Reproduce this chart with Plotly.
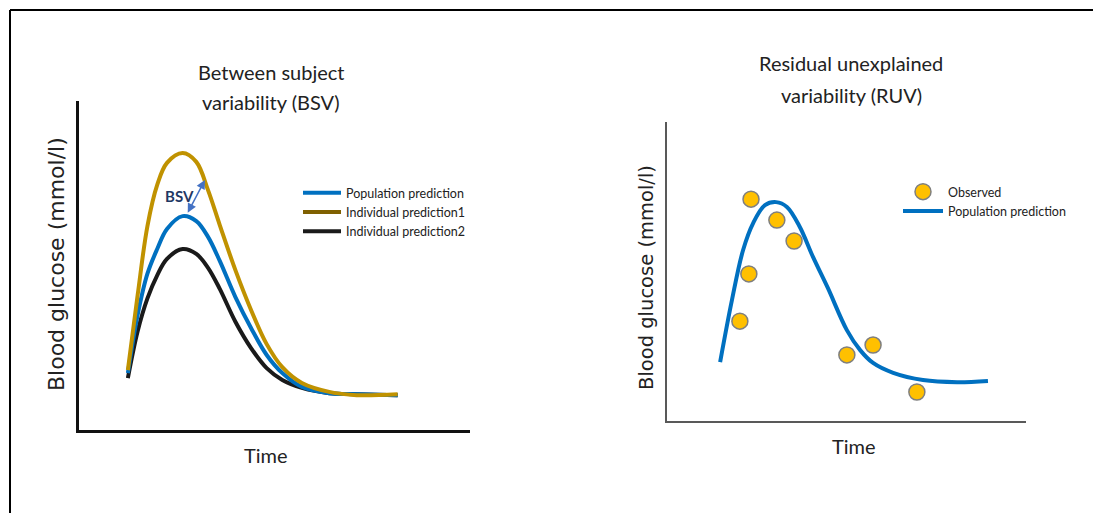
import plotly.graph_objects as go

# ---------------- data ----------------
# Left panel: between-subject variability (arbitrary units, 0-100)
bsv_time = [12.5, 15, 17.5, 20, 22.5, 26.5, 30, 33, 36, 40, 44, 48, 52, 57, 64, 71, 81.5]
pop_pred = [17.3, 35.0, 47.5, 55.0, 61.1, 65.0, 63.5, 58.7, 51.4, 40.4, 31.0, 22.8, 17.3, 13.1, 11.2, 10.9, 10.6]
ind_pred1 = [18.2, 41.0, 62.0, 74.5, 81.2, 84.2, 81.5, 72.9, 62.3, 48.6, 36.5, 26.1, 19.1, 14.3, 11.6, 10.6, 10.9]
ind_pred2 = [15.8, 30.0, 40.0, 47.0, 52.0, 55.0, 53.5, 49.3, 42.9, 32.9, 24.9, 18.8, 15.2, 12.8, 11.2, 10.9, 10.6]

# Right panel: residual unexplained variability
ruv_time = [14.8, 18.1, 21.2, 24.0, 27.3, 30.4, 33.4, 37.0, 40.7, 44.8, 50.1, 53.8, 57.4, 63.0, 71.3, 80.8, 89.4]
ruv_pred = [19.7, 40.5, 57.2, 66.2, 72.2, 73.2, 71.6, 64.9, 54.8, 44.5, 30.4, 23.7, 19.4, 16.1, 13.7, 13.0, 13.4]
obs_time = [20.3, 22.8, 23.4, 30.6, 35.4, 50.1, 57.4, 69.6]
obs_val = [33.4, 49.2, 74.2, 67.2, 60.2, 22.1, 25.4, 9.7]

titles_left = ["Between subject", "variability (BSV)"]
titles_right = ["Residual unexplained", "variability (RUV)"]
y_label = "Blood glucose (mmol/l)"
x_label = "Time"

# ---------------- style ----------------
FONT = "Lato"
YFONT = "DejaVu Sans"
BLUE = "#0070C0"
GOLD = "#C09200"
GOLD_LEG = "#7F6000"
BLACK = "#1A1A1A"
OFF = 8  # page body margin
W, H = 1101 - OFF, 513 - OFF


def px_x(p):
    return (p - OFF) / W


def px_y(p):
    return (H - (p - OFF)) / H


fig = go.Figure()

# left panel curves
fig.add_trace(go.Scatter(x=bsv_time, y=ind_pred2, mode="lines", line=dict(color=BLACK, width=4, shape="spline"),
                         xaxis="x", yaxis="y", showlegend=False))
fig.add_trace(go.Scatter(x=bsv_time, y=pop_pred, mode="lines", line=dict(color=BLUE, width=4, shape="spline"),
                         xaxis="x", yaxis="y", showlegend=False))
fig.add_trace(go.Scatter(x=bsv_time, y=ind_pred1, mode="lines", line=dict(color=GOLD, width=4, shape="spline"),
                         xaxis="x", yaxis="y", showlegend=False))

# left legend entries
fig.add_trace(go.Scatter(x=[None], y=[None], mode="lines", line=dict(color=BLUE, width=4),
                         name="Population prediction", legend="legend", xaxis="x", yaxis="y"))
fig.add_trace(go.Scatter(x=[None], y=[None], mode="lines", line=dict(color=GOLD_LEG, width=4),
                         name="Individual prediction1", legend="legend", xaxis="x", yaxis="y"))
fig.add_trace(go.Scatter(x=[None], y=[None], mode="lines", line=dict(color=BLACK, width=4),
                         name="Individual prediction2", legend="legend", xaxis="x", yaxis="y"))

# right panel
fig.add_trace(go.Scatter(x=ruv_time, y=ruv_pred, mode="lines", line=dict(color=BLUE, width=4, shape="spline"),
                         xaxis="x2", yaxis="y2", name="Population prediction", legend="legend2", legendrank=2))
fig.add_trace(go.Scatter(x=obs_time, y=obs_val, mode="markers",
                         marker=dict(color="#FFC000", size=16, line=dict(color="#7F7F7F", width=1.5)),
                         xaxis="x2", yaxis="y2", name="Observed", legend="legend2", legendrank=1))

axis_common = dict(showgrid=False, zeroline=False, showticklabels=False, ticks="", range=[0, 100], fixedrange=True)

fig.update_layout(
    width=W, height=H,
    margin=dict(l=0, r=0, t=0, b=0),
    paper_bgcolor="white", plot_bgcolor="white",
    font=dict(family=FONT, color="#222222"),
    xaxis=dict(domain=[px_x(79), px_x(470)], anchor="y", showline=True, linecolor="#111111", linewidth=2.5, **axis_common),
    yaxis=dict(domain=[px_y(430), px_y(101)], anchor="x", showline=True, linecolor="#111111", linewidth=2.5, **axis_common),
    xaxis2=dict(domain=[px_x(667), px_x(1026)], anchor="y2", showline=True, linecolor="#595959", linewidth=1.5, **axis_common),
    yaxis2=dict(domain=[px_y(421), px_y(122)], anchor="x2", showline=True, linecolor="#595959", linewidth=1.5, **axis_common),
    legend=dict(x=px_x(298), y=px_y(178), xanchor="left", yanchor="top", bgcolor="rgba(0,0,0,0)",
                font=dict(family=FONT, size=12.5, color="#222222"), tracegroupgap=0, itemwidth=38),
    legend2=dict(x=px_x(898), y=px_y(177), xanchor="left", yanchor="top", bgcolor="rgba(0,0,0,0)",
                 font=dict(family=FONT, size=12.5, color="#222222"), traceorder="normal", itemwidth=40),
)

annotations = []
for i, t in enumerate(titles_left):
    annotations.append(dict(text=t, x=px_x(271), y=px_y(72 + 30 * i), xref="paper", yref="paper",
                            showarrow=False, xanchor="center", yanchor="middle",
                            font=dict(family=FONT, size=20, color="#222222")))
for i, t in enumerate(titles_right):
    annotations.append(dict(text=t, x=px_x(851), y=px_y(63 + 32 * i), xref="paper", yref="paper",
                            showarrow=False, xanchor="center", yanchor="middle",
                            font=dict(family=FONT, size=20, color="#222222")))
annotations.append(dict(text=y_label, x=px_x(56), y=px_y(264), xref="paper", yref="paper", textangle=-90,
                        showarrow=False, xanchor="center", yanchor="middle",
                        font=dict(family=YFONT, size=22, color="#222222")))
annotations.append(dict(text=y_label, x=px_x(646), y=px_y(278), xref="paper", yref="paper", textangle=-90,
                        showarrow=False, xanchor="center", yanchor="middle",
                        font=dict(family=YFONT, size=19.5, color="#222222")))
annotations.append(dict(text=x_label, x=px_x(266), y=px_y(455), xref="paper", yref="paper",
                        showarrow=False, xanchor="center", yanchor="middle",
                        font=dict(family=FONT, size=20, color="#222222")))
annotations.append(dict(text=x_label, x=px_x(854), y=px_y(446), xref="paper", yref="paper",
                        showarrow=False, xanchor="center", yanchor="middle",
                        font=dict(family=FONT, size=20, color="#222222")))
# BSV label and double arrow
annotations.append(dict(text="<b>BSV</b>", x=25.8, y=71.1, xref="x", yref="y", showarrow=False,
                        font=dict(family=FONT, size=15, color="#1F3864")))
annotations.append(dict(text="", x=32.2, y=76.0, ax=27.6, ay=65.6, xref="x", yref="y", axref="x", ayref="y",
                        showarrow=True, arrowhead=2, startarrowhead=2, arrowside="end+start",
                        arrowsize=1.2, startarrowsize=1.2, arrowwidth=1.5, arrowcolor="#4472C4",
                        standoff=0, startstandoff=0))
fig.update_layout(annotations=annotations)

# outer frame (top and left border)
fig.add_shape(type="line", xref="paper", yref="paper", x0=px_x(10), x1=1, y0=px_y(10), y1=px_y(10),
              line=dict(color="black", width=2))
fig.add_shape(type="line", xref="paper", yref="paper", x0=px_x(10), x1=px_x(10), y0=0, y1=px_y(10),
              line=dict(color="black", width=2))

fig.write_html("out.html")
